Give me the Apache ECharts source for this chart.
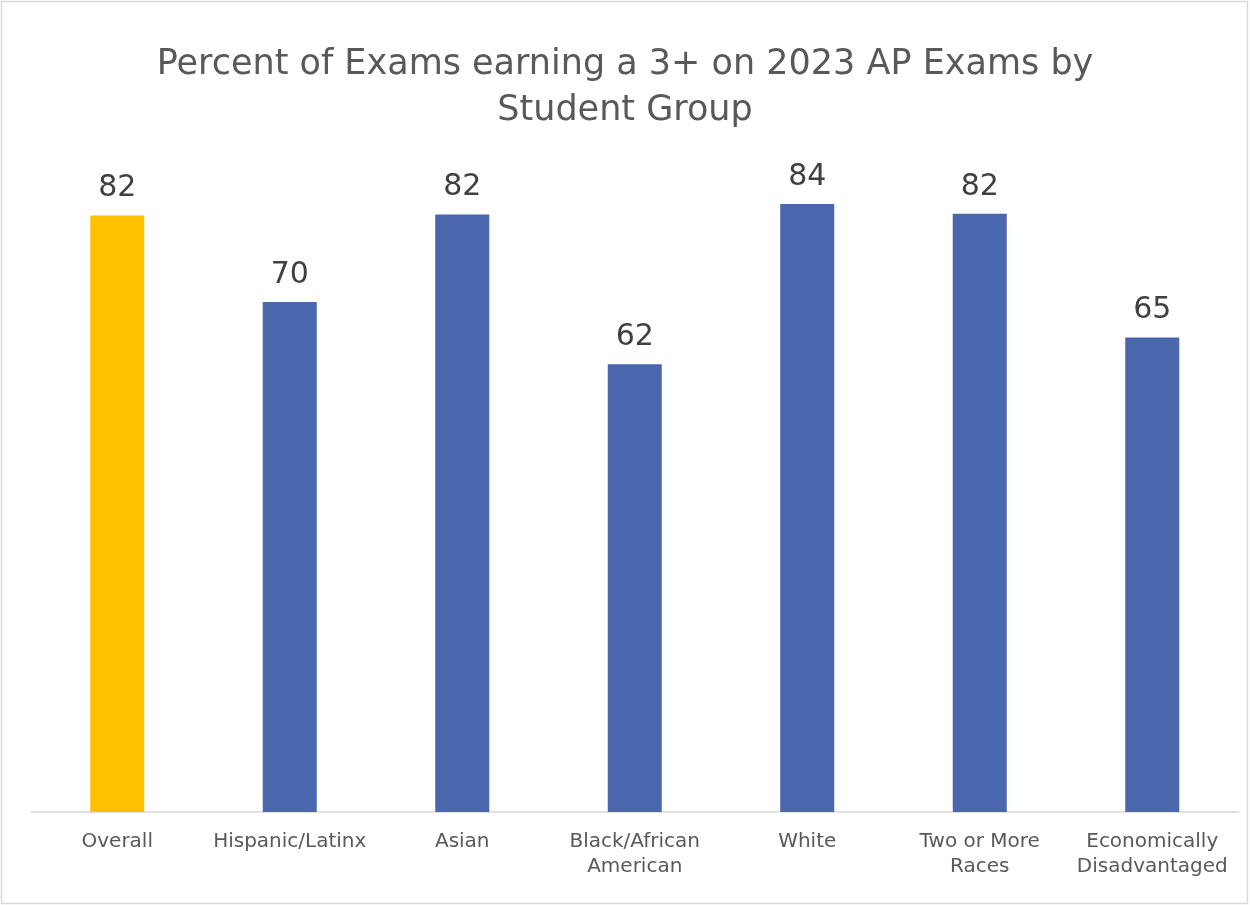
<!DOCTYPE html>
<html>
<head>
<meta charset="utf-8">
<script src="https://cdn.jsdelivr.net/npm/echarts@6/dist/echarts.min.js"></script>
<style>
html,body{margin:0;padding:0;background:#fff;}
#chart{width:1250px;height:905px;}
</style>
</head>
<body>
<div id="chart"></div>
<script>
var titleText = 'Percent of Exams earning a 3+ on 2023 AP Exams by\nStudent Group';
var categories = ['Overall', 'Hispanic/Latinx', 'Asian', 'Black/African\nAmerican', 'White', 'Two or More\nRaces', 'Economically\nDisadvantaged'];
var values = [82.2, 70.3, 82.35, 61.7, 83.8, 82.45, 65.4];
var barColors = ['#FFC000', '#4A66AC', '#4A66AC', '#4A66AC', '#4A66AC', '#4A66AC', '#4A66AC'];

var FONT = 'DejaVu Sans';
var chart = echarts.init(document.getElementById('chart'), null, {renderer: 'canvas'});
chart.setOption({
  backgroundColor: '#ffffff',
  animation: false,
  graphic: [{
    type: 'rect',
    shape: {x: 1.5, y: 1.5, width: 1246, height: 902},
    style: {fill: 'none', stroke: '#d9d9d9', lineWidth: 1.5},
    silent: true
  }],
  title: {
    text: titleText,
    left: 620,
    textAlign: 'center',
    top: 37,
    textStyle: {
      fontFamily: FONT,
      fontSize: 35,
      fontWeight: 'normal',
      color: '#595959',
      lineHeight: 46
    }
  },
  grid: {left: 31, right: 11.5, top: 159, bottom: 93, containLabel: false},
  xAxis: {
    type: 'category',
    data: categories,
    axisLine: {show: true, lineStyle: {color: '#d9d9d9', width: 1.5}},
    axisTick: {show: false},
    axisLabel: {
      interval: 0,
      margin: 17,
      fontFamily: FONT,
      fontSize: 20,
      color: '#595959',
      lineHeight: 25
    }
  },
  yAxis: {
    type: 'value',
    min: 0,
    max: 90,
    interval: 10,
    show: false,
    splitLine: {show: false}
  },
  series: [{
    type: 'bar',
    data: values.map(function (v, i) { return {value: v, itemStyle: {color: barColors[i]}}; }),
    barWidth: 54,
    label: {
      show: true,
      position: 'top',
      distance: 12,
      fontFamily: FONT,
      fontSize: 30,
      color: '#404040',
      formatter: function (p) { return Math.round(p.value); }
    }
  }]
});
</script>
</body>
</html>
